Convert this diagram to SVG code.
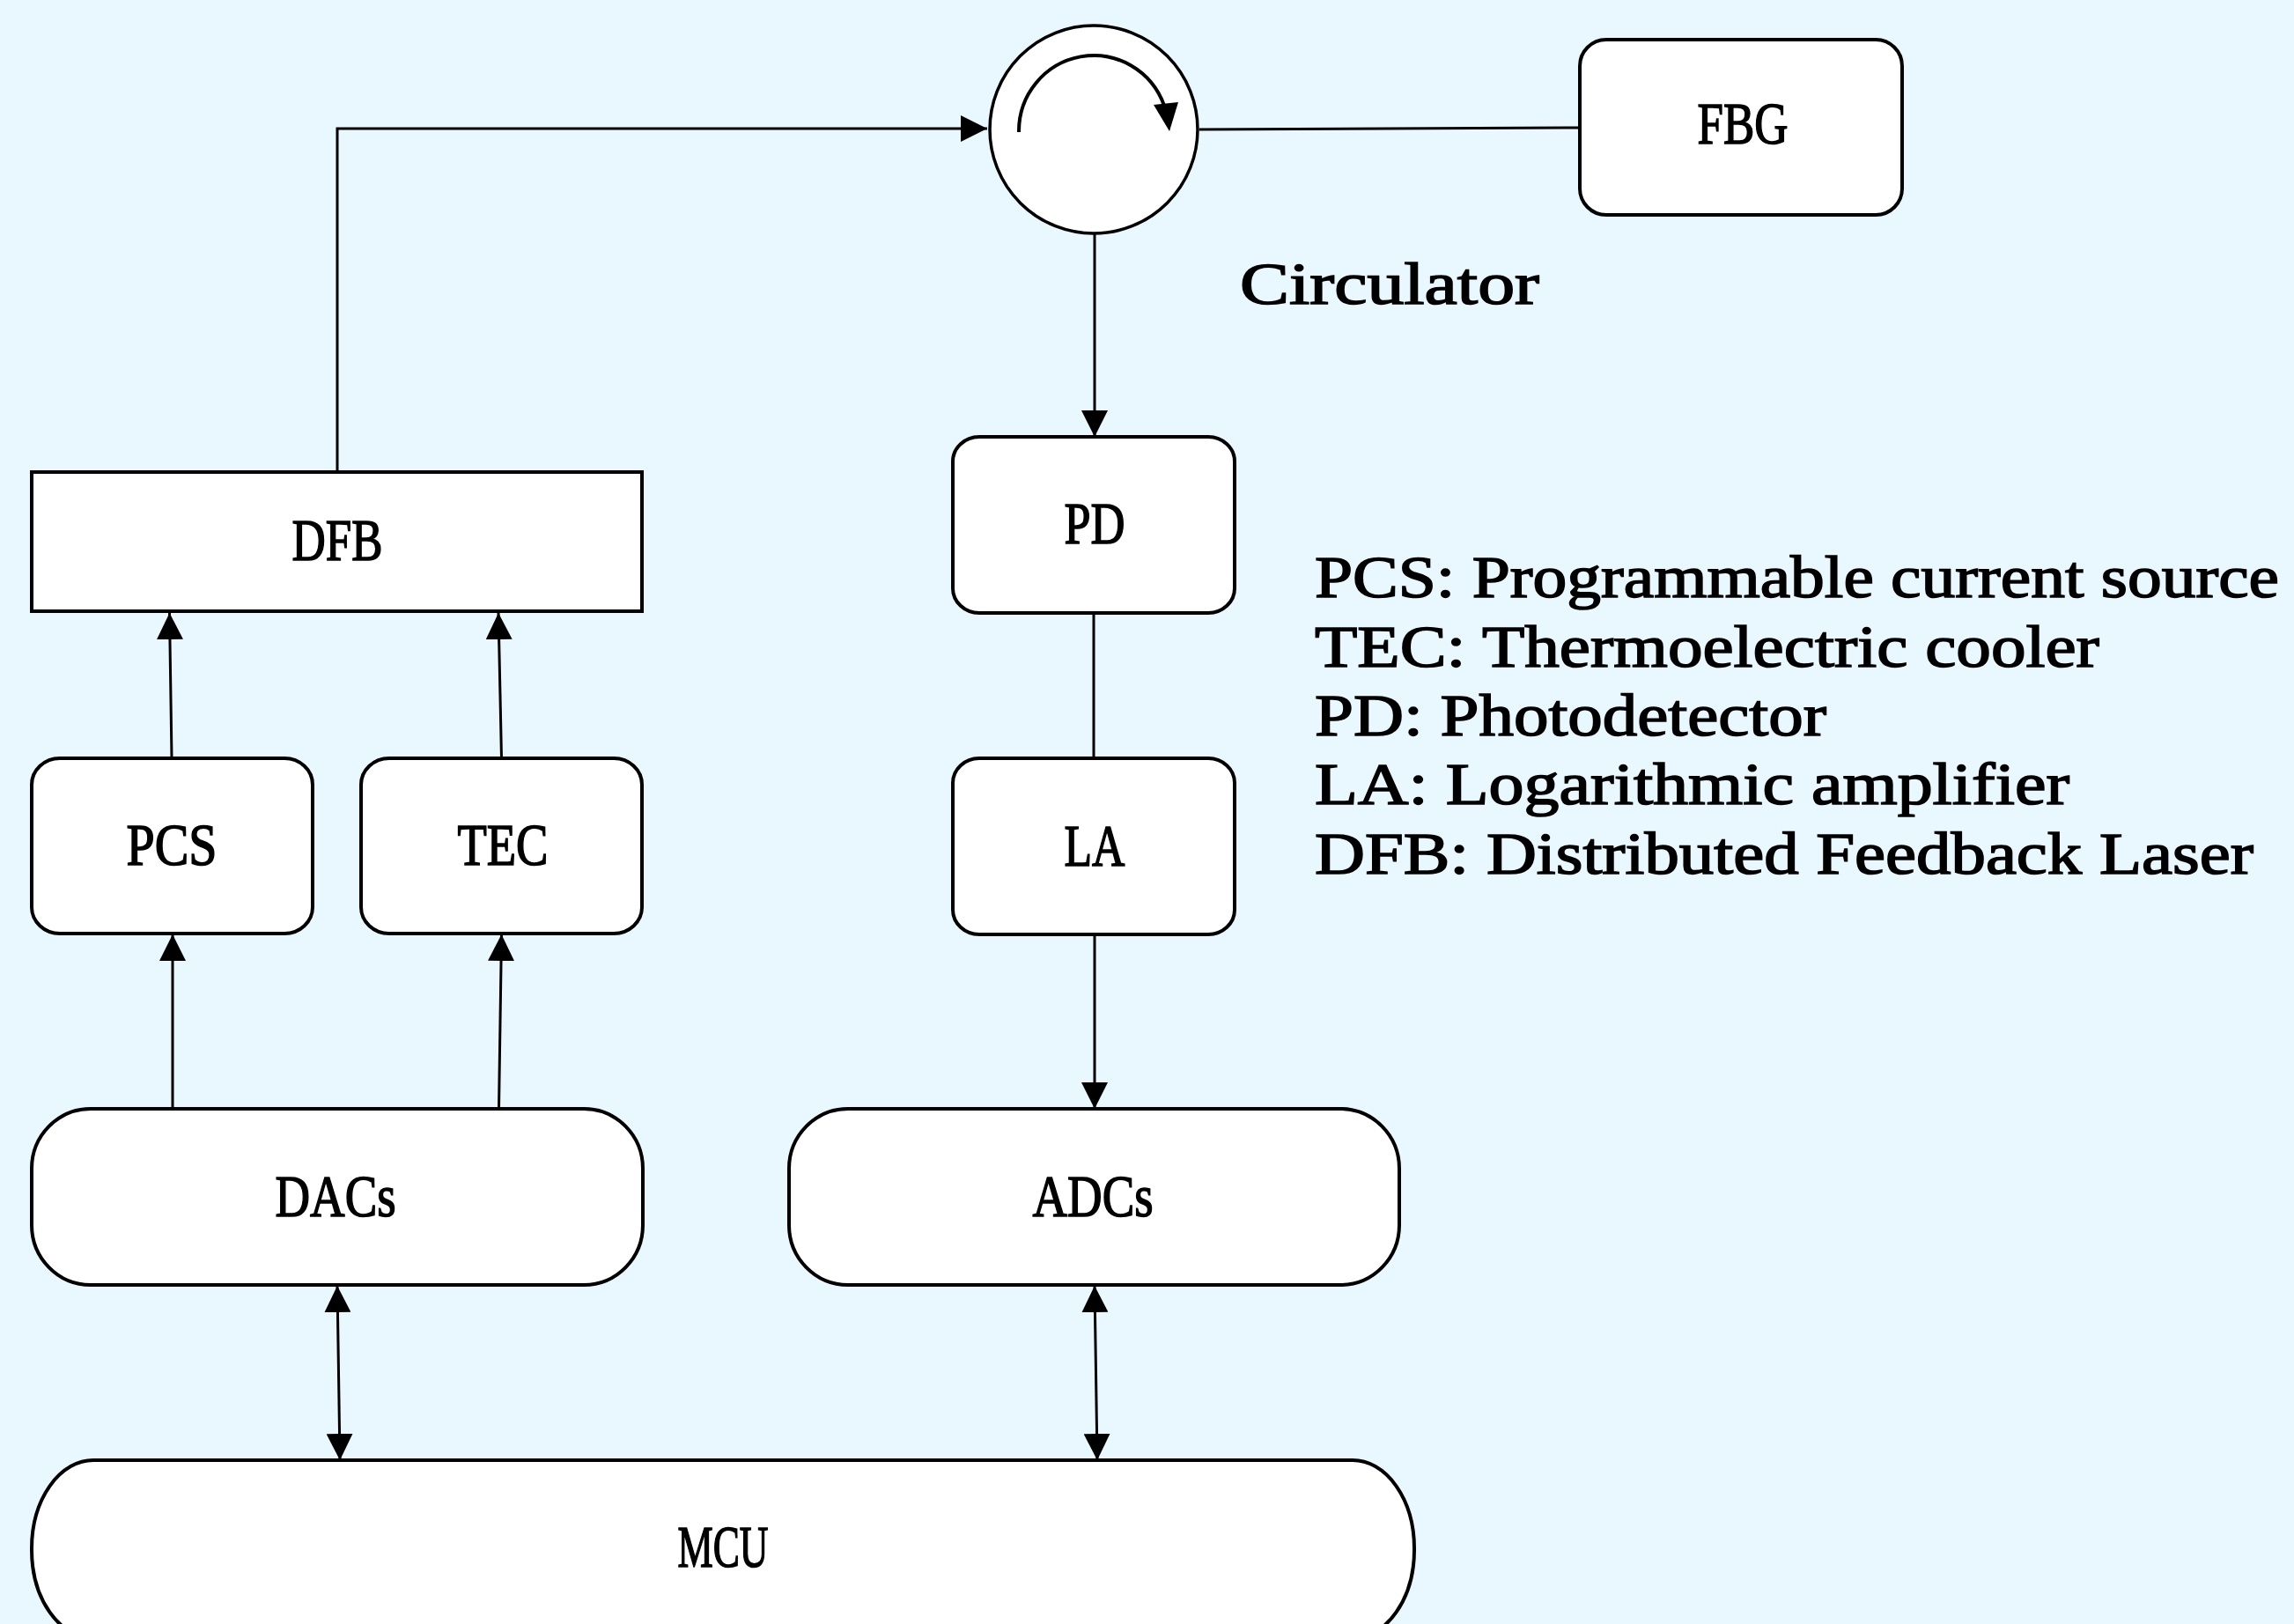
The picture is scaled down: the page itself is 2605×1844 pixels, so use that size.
<svg xmlns="http://www.w3.org/2000/svg" width="2605" height="1844" viewBox="0 0 2605 1844">
<defs>
<style>
.bg{fill:#E8F8FE}
.box{fill:#ffffff;stroke:#000;stroke-width:4}
.ln{fill:none;stroke:#000;stroke-width:3}
.t{font-family:"Liberation Serif","Times New Roman",serif;font-size:68px;fill:#000;stroke:#000;stroke-width:1.6}
.c{text-anchor:middle}
</style>
<marker id="ah" markerUnits="userSpaceOnUse" markerWidth="30" markerHeight="30" viewBox="0 0 30 30" refX="30" refY="15" orient="auto-start-reverse">
<path d="M0,0 L30,15 L0,30 z" fill="#000"/>
</marker>
</defs>
<rect class="bg" x="0" y="0" width="2605" height="1844"/>

<g id="connectors">
<polyline class="ln" points="383,536 383,146 1121,146" marker-end="url(#ah)"/>
<line class="ln" x1="1362" y1="147" x2="1794" y2="145"/>
<line class="ln" x1="1243" y1="265" x2="1243" y2="496" marker-end="url(#ah)"/>
<line class="ln" x1="1242" y1="696" x2="1242" y2="861"/>
<line class="ln" x1="1243" y1="1061" x2="1243" y2="1259" marker-end="url(#ah)"/>
<line class="ln" x1="195" y1="861" x2="192.5" y2="696" marker-end="url(#ah)"/>
<line class="ln" x1="569.5" y1="861" x2="566" y2="696" marker-end="url(#ah)"/>
<line class="ln" x1="196" y1="1259" x2="196" y2="1061" marker-end="url(#ah)"/>
<line class="ln" x1="566.5" y1="1259" x2="569.5" y2="1061" marker-end="url(#ah)"/>
<line class="ln" x1="383" y1="1460" x2="386" y2="1658" marker-start="url(#ah)" marker-end="url(#ah)"/>
<line class="ln" x1="1243" y1="1460" x2="1246" y2="1658" marker-start="url(#ah)" marker-end="url(#ah)"/>
</g>

<g id="circulator">
<circle class="box" cx="1242" cy="147" r="118" style="stroke-width:3.5"/>
<path class="ln" d="M1157,150 A85,86 0 0 1 1322,120" style="stroke-width:4"/>
<polygon points="1310,119 1338,116 1328,149" fill="#000"/>
<text class="t" x="1408" y="345" textLength="340" lengthAdjust="spacingAndGlyphs">Circulator</text>
</g>

<g id="fbg">
<rect class="box" x="1794" y="45" width="366" height="199" rx="30" ry="30"/>
<text class="t c" x="1979" y="163" textLength="103" lengthAdjust="spacingAndGlyphs">FBG</text>
</g>

<g id="dfb">
<rect class="box" x="36" y="536" width="693" height="158"/>
<text class="t c" x="383" y="636" textLength="103" lengthAdjust="spacingAndGlyphs">DFB</text>
</g>

<g id="pcs">
<rect class="box" x="36" y="861" width="319" height="199" rx="32" ry="30"/>
<text class="t c" x="195" y="982" textLength="103" lengthAdjust="spacingAndGlyphs">PCS</text>
</g>

<g id="tec">
<rect class="box" x="410" y="861" width="319" height="199" rx="32" ry="30"/>
<text class="t c" x="571" y="982" textLength="103" lengthAdjust="spacingAndGlyphs">TEC</text>
</g>

<g id="pd">
<rect class="box" x="1082" y="496" width="320" height="200" rx="30" ry="28"/>
<text class="t c" x="1243" y="617" textLength="69" lengthAdjust="spacingAndGlyphs">PD</text>
</g>

<g id="la">
<rect class="box" x="1082" y="861" width="320" height="200" rx="30" ry="28"/>
<text class="t c" x="1243" y="983" textLength="69" lengthAdjust="spacingAndGlyphs">LA</text>
</g>

<g id="dacs">
<rect class="box" x="36" y="1259" width="694" height="200" rx="67" ry="68"/>
<text class="t c" x="381" y="1381" textLength="137" lengthAdjust="spacingAndGlyphs">DACs</text>
</g>

<g id="adcs">
<rect class="box" x="896" y="1259" width="693" height="200" rx="67" ry="68"/>
<text class="t c" x="1241" y="1381" textLength="137" lengthAdjust="spacingAndGlyphs">ADCs</text>
</g>

<g id="mcu">
<rect class="box" x="36" y="1658" width="1570" height="202" rx="70" ry="100"/>
<text class="t c" x="821" y="1779" textLength="103" lengthAdjust="spacingAndGlyphs">MCU</text>
</g>

<g id="legend">
<text class="t" x="1493" y="678" textLength="1095" lengthAdjust="spacingAndGlyphs">PCS: Programmable current source</text>
<text class="t" x="1493" y="757" textLength="891" lengthAdjust="spacingAndGlyphs">TEC: Thermoelectric cooler</text>
<text class="t" x="1493" y="835" textLength="581" lengthAdjust="spacingAndGlyphs">PD: Photodetector</text>
<text class="t" x="1493" y="913" textLength="857" lengthAdjust="spacingAndGlyphs">LA: Logarithmic amplifier</text>
<text class="t" x="1493" y="992" textLength="1066" lengthAdjust="spacingAndGlyphs">DFB: Distributed Feedback Laser</text>
</g>
</svg>
